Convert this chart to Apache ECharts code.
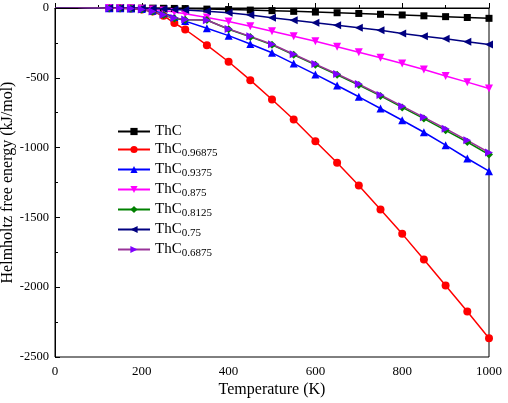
<!DOCTYPE html>
<html>
<head>
<meta charset="utf-8">
<script src="https://cdn.jsdelivr.net/npm/echarts@6/dist/echarts.min.js"></script>
<style>
  html, body { margin: 0; padding: 0; background: #fff; }
  #chart { width: 508px; height: 403px; }
</style>
</head>
<body>
<div id="chart"></div>
<script>
// temperatures (K)
var temps = [0, 25, 50, 75, 100, 125, 150, 175, 200, 225, 250, 275, 300,
             350, 400, 450, 500, 550, 600, 650, 700, 750, 800, 850, 900, 950, 1000];

// Helmholtz free energy (kJ/mol)
var thc       = [10, 8, 5, 3, 1, 0, 0, 0, -1, -1, -2, -3, -4,
                 -8, -11, -15, -19, -24, -29, -34, -39, -45, -50, -56, -62, -68, -74];
var thc96875  = [10, 8, 5, 3, 1, -1, -2, -4, -10, -25, -55, -108, -154,
                 -266, -385, -517, -655, -799, -954, -1109, -1271, -1443, -1618, -1801, -1988, -2174, -2365];
var thc9375   = [10, 8, 5, 3, 1, -1, -2, -4, -8, -20, -38, -65, -94,
                 -145, -198, -258, -321, -398, -476, -555, -636, -720, -804, -890, -983, -1078, -1169];
var thc875    = [10, 8, 5, 3, 1, 0, -1, -2, -5, -10, -18, -28, -41,
                 -68, -96, -130, -166, -202, -238, -278, -317, -357, -398, -441, -487, -531, -577];
var thc8125   = [10, 8, 5, 3, 1, -1, -2, -4, -10, -25, -50, -75, -84,
                 -86, -152, -207, -264, -335, -407, -478, -552, -630, -712, -792, -876, -960, -1050];
var thc75     = [10, 8, 5, 3, 1, 0, 0, -1, -2, -4, -7, -10, -15,
                 -24, -34, -50, -70, -87, -106, -123, -142, -160, -182, -202, -221, -242, -261];
var thc6875   = [10, 8, 5, 3, 1, -1, -2, -4, -10, -25, -48, -72, -82,
                 -88, -150, -203, -260, -331, -402, -473, -545, -623, -703, -783, -865, -948, -1035];

var yTicks = [0, -500, -1000, -1500, -2000, -2500];

var FONT = 'Liberation Serif';

function pairs(vals) {
    return temps.map(function (t, i) { return [t, vals[i]]; });
}

// name, subscript, data, line colour, marker colour, symbol, rotate
var defs = [
    ['ThC', '', thc, '#000000', '#000000', 'rect', 0],
    ['ThC0.96875', '0.96875', thc96875, '#ff0000', '#ff0000', 'circle', 0],
    ['ThC0.9375', '0.9375', thc9375, '#0000ff', '#0000ff', 'triangle', 0],
    ['ThC0.875', '0.875', thc875, '#ff00ff', '#ff00ff', 'triangle', 180],
    ['ThC0.8125', '0.8125', thc8125, '#008000', '#008000', 'diamond', 0],
    ['ThC0.75', '0.75', thc75, '#000080', '#000080', 'triangle', 90],
    ['ThC0.6875', '0.6875', thc6875, '#993399', '#8000ff', 'triangle', -90]
];

var subs = {};
var series = defs.map(function (d) {
    subs[d[0]] = d[1];
    return {
        name: d[0],
        type: 'line',
        data: pairs(d[2]),
        symbol: d[5],
        symbolRotate: d[6],
        symbolSize: d[5] === 'rect' ? 7 : 8,
        showAllSymbol: true,
        clip: true,
        lineStyle: { color: d[3], width: 1.5 },
        itemStyle: { color: d[4] },
        emphasis: { disabled: true },
        animation: false
    };
});

function plain(v) { return String(v); }

var chart = echarts.init(document.getElementById('chart'));
chart.setOption({
    backgroundColor: '#fff',
    textStyle: { fontFamily: FONT },
    grid: {
        left: 55, right: 19, top: 8, bottom: 46,
        outerBoundsMode: 'none',
        containLabel: false,
        show: true, borderColor: '#000', borderWidth: 1
    },
    legend: {
        orient: 'vertical',
        left: 112,
        top: 119,
        itemGap: 3,
        itemWidth: 32,
        itemHeight: 9,
        data: defs.map(function (d) { return d[0]; }),
        formatter: function (name) {
            return subs[name] ? 'ThC{s|' + subs[name] + '}' : 'ThC';
        },
        textStyle: {
            fontFamily: FONT, fontSize: 15, color: '#000',
            rich: {
                s: { fontFamily: FONT, fontSize: 11, color: '#000', padding: [8, 0, 0, 0] }
            }
        }
    },
    xAxis: {
        type: 'value',
        min: 0, max: 1000, interval: 200,
        name: 'Temperature (K)',
        nameLocation: 'middle',
        nameGap: 25,
        nameMoveOverlap: false,
        nameTextStyle: { fontFamily: FONT, fontSize: 16, color: '#000' },
        axisLine: { lineStyle: { color: '#000', width: 1 } },
        axisTick: { inside: true, length: 5, lineStyle: { color: '#000' } },
        minorTick: { show: true, splitNumber: 2, length: 3, lineStyle: { color: '#000' } },
        axisLabel: { fontFamily: FONT, fontSize: 13, color: '#000', margin: 8, formatter: plain },
        splitLine: { show: false }
    },
    yAxis: {
        type: 'value',
        min: yTicks[yTicks.length - 1], max: yTicks[0], interval: 500,
        name: 'Helmholtz free energy (kJ/mol)',
        nameLocation: 'middle',
        nameGap: 39,
        nameMoveOverlap: false,
        nameTextStyle: { fontFamily: FONT, fontSize: 16, color: '#000' },
        axisLine: { lineStyle: { color: '#000', width: 1 } },
        axisTick: { inside: true, length: 5, lineStyle: { color: '#000' } },
        minorTick: { show: true, splitNumber: 2, length: 3, lineStyle: { color: '#000' } },
        axisLabel: { fontFamily: FONT, fontSize: 12.5, color: '#000', margin: 6, formatter: plain },
        splitLine: { show: false }
    },
    series: series
});
</script>
</body>
</html>
